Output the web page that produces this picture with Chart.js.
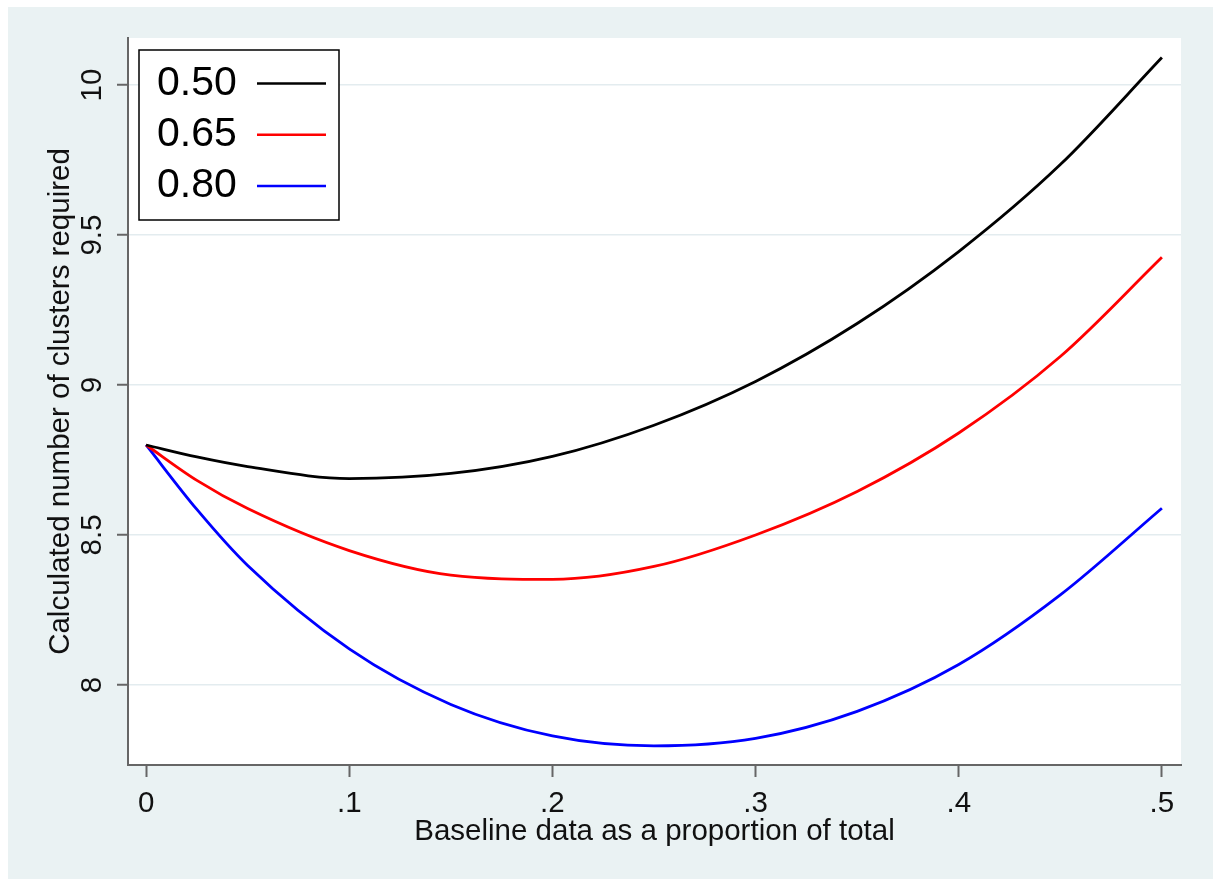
<!DOCTYPE html>
<html>
<head>
<meta charset="utf-8">
<script src="https://cdn.jsdelivr.net/npm/chart.js@4"></script>
<style>
  html, body { margin: 0; padding: 0; background: #fff; }
  #wrap { position: absolute; left: 8px; top: 7px; width: 1205px; height: 872px; background: #eaf2f3; }
  canvas { display: block; }
</style>
</head>
<body>
<div id="wrap"><canvas id="chart" width="1205" height="872"></canvas></div>
<script>
// values
const proportions = [0, 0.025, 0.05, 0.1, 0.15, 0.2, 0.25, 0.3, 0.35, 0.4, 0.45, 0.5];
const clusters050 = [8.80, 8.760, 8.728, 8.688, 8.705, 8.762, 8.866, 9.012, 9.205, 9.445, 9.735, 10.092];
const clusters065 = [8.80, 8.682, 8.588, 8.448, 8.366, 8.352, 8.395, 8.500, 8.645, 8.840, 9.095, 9.426];
const clusters080 = [8.80, 8.585, 8.398, 8.120, 7.935, 7.830, 7.797, 7.822, 7.912, 8.068, 8.300, 8.589];
const seriesLabels = ['0.50', '0.65', '0.80'];
const seriesColors = ['#000000', '#ff0000', '#0000ff'];
const xTicks = [0, 0.1, 0.2, 0.3, 0.4, 0.5];
const yTicks = [8, 8.5, 9, 9.5, 10];

const FONT = '"Liberation Sans", Arial, sans-serif';
const AXIS = '#666666';

function fmtX(v) {
  return v === 0 ? '0' : String(v).replace(/^0/, '');
}

// white plot region like Stata's plotregion
const plotBg = {
  id: 'plotBg',
  beforeDraw(chart) {
    const { ctx, chartArea: a } = chart;
    ctx.save();
    ctx.fillStyle = '#ffffff';
    ctx.fillRect(a.left, a.top, a.right - a.left, a.bottom - a.top);
    ctx.restore();
  }
};

// legend: label first, then line sample, inside a framed box
const boxLegend = {
  id: 'boxLegend',
  afterDraw(chart) {
    const { ctx, chartArea: a } = chart;
    const x0 = a.left + 11, y0 = a.top + 12, w = 200, h = 170;
    ctx.save();
    ctx.fillStyle = '#ffffff';
    ctx.fillRect(x0, y0, w, h);
    ctx.strokeStyle = '#000000';
    ctx.lineWidth = 1.5;
    ctx.strokeRect(x0, y0, w, h);
    ctx.font = '41px ' + FONT;
    ctx.textBaseline = 'middle';
    chart.data.datasets.forEach((ds, i) => {
      const cy = y0 + 33.5 + i * 51.3;
      ctx.fillStyle = '#000000';
      ctx.fillText(ds.label, x0 + 18, cy);
      ctx.strokeStyle = ds.borderColor;
      ctx.lineWidth = 2.5;
      ctx.beginPath();
      ctx.moveTo(x0 + 118, cy);
      ctx.lineTo(x0 + 187, cy);
      ctx.stroke();
    });
    ctx.restore();
  }
};

const seriesData = [clusters050, clusters065, clusters080];

new Chart(document.getElementById('chart'), {
  type: 'line',
  data: {
    datasets: seriesData.map((vals, i) => ({
      label: seriesLabels[i],
      data: proportions.map((x, j) => ({ x: x, y: vals[j] })),
      borderColor: seriesColors[i],
      borderWidth: 2.8,
      pointRadius: 0,
      fill: false,
      cubicInterpolationMode: 'monotone'
    }))
  },
  options: {
    responsive: false,
    animation: false,
    devicePixelRatio: 1,
    layout: { padding: { top: 31, right: 32, left: 0, bottom: 0 } },
    plugins: { legend: { display: false }, tooltip: { enabled: false } },
    scales: {
      x: {
        type: 'linear',
        min: -0.0089,
        max: 0.5094,
        afterBuildTicks: s => { s.ticks = xTicks.map(v => ({ value: v })); },
        afterFit: s => { s.height = 114; },
        grid: { drawOnChartArea: false, drawTicks: true, tickLength: 12, tickColor: AXIS, tickWidth: 2 },
        border: { display: true, color: AXIS, width: 2 },
        ticks: { color: '#111', font: { family: FONT, size: 29.5 }, padding: 9, maxRotation: 0, autoSkip: false, callback: fmtX },
        title: { display: true, text: 'Baseline data as a proportion of total', color: '#111', font: { family: FONT, size: 29.5 }, padding: { top: 0, bottom: 29 } }
      },
      y: {
        type: 'linear',
        min: 7.733,
        max: 10.157,
        afterBuildTicks: s => { s.ticks = yTicks.map(v => ({ value: v })); },
        afterFit: s => { s.width = 120; },
        grid: { color: '#e3ecef', lineWidth: 1.5, drawTicks: true, tickLength: 11, tickColor: AXIS, tickWidth: 2 },
        border: { display: true, color: AXIS, width: 2 },
        ticks: { color: '#111', font: { family: FONT, size: 29.5 }, padding: 4, minRotation: 90, maxRotation: 90, crossAlign: 'center', autoSkip: false, callback: v => String(v) },
        title: { display: true, text: 'Calculated number of clusters required', color: '#111', font: { family: FONT, size: 29.5 }, padding: { top: 35, bottom: 0 } }
      }
    }
  },
  plugins: [plotBg, boxLegend]
});
</script>
</body>
</html>
